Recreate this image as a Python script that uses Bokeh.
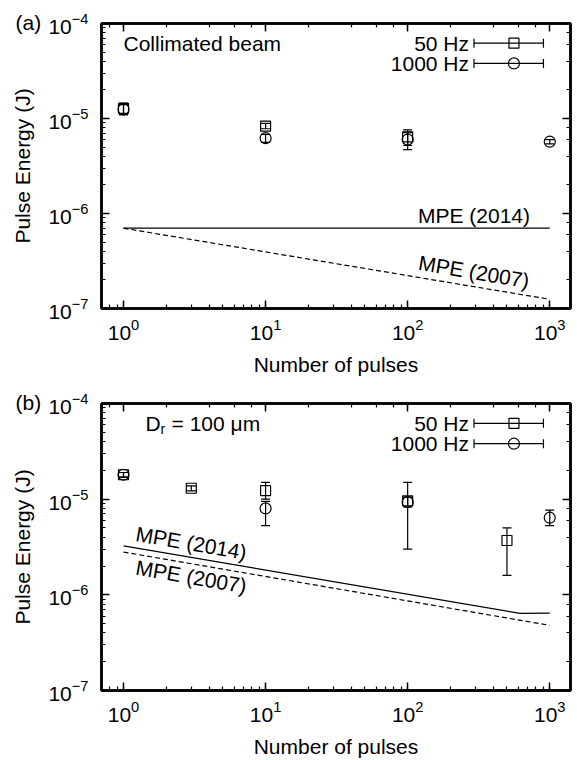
from bokeh.plotting import figure
from bokeh.models import (LogAxis, CustomJSTickFormatter, Whisker, TeeHead,
                          ColumnDataSource, Range1d)
from bokeh.layouts import column
from bokeh.embed import file_html
from bokeh.resources import INLINE
from bokeh.core.properties import value

FONT = "Liberation Sans"
FS = "21px"

# ---------------- data: panel (a) collimated beam ----------------
a_x_50 = [1, 10, 100]
a_y_50 = [1.28e-5, 8.3e-6, 6.4e-6]
a_lo_50 = [1.1e-5, 7.8e-6, 4.7e-6]
a_hi_50 = [1.45e-5, 8.9e-6, 7.6e-6]
a_x_1000 = [1, 10, 100, 1000]
a_y_1000 = [1.25e-5, 6.2e-6, 6.0e-6, 5.7e-6]
a_lo_1000 = [1.1e-5, 5.6e-6, 5.2e-6, 5.4e-6]
a_hi_1000 = [1.4e-5, 6.8e-6, 7.1e-6, 6.0e-6]
a_mpe2014_x = [1, 1000]
a_mpe2014_y = [7.0e-7, 7.0e-7]
a_mpe2007_x = [1, 1000]
a_mpe2007_y = [7.0e-7, 1.25e-7]

# ---------------- data: panel (b) Dr = 100 um ----------------
b_x_50 = [1, 3, 10, 100, 500]
b_y_50 = [1.8e-5, 1.3e-5, 1.23e-5, 9.6e-6, 3.7e-6]
b_lo_50 = [1.7e-5, 1.22e-5, 1.0e-5, 3.0e-6, 1.6e-6]
b_hi_50 = [1.9e-5, 1.38e-5, 1.5e-5, 1.5e-5, 5.0e-6]
b_x_1000 = [1, 10, 100, 1000]
b_y_1000 = [1.8e-5, 8.0e-6, 9.3e-6, 6.4e-6]
b_lo_1000 = [1.7e-5, 5.3e-6, 8.3e-6, 5.3e-6]
b_hi_1000 = [1.9e-5, 9.5e-6, 1.05e-5, 7.7e-6]
b_mpe2014_x = [1, 620, 1000]
b_mpe2014_y = [3.25e-6, 6.4e-7, 6.45e-7]
b_mpe2007_x = [1, 1000]
b_mpe2007_y = [2.8e-6, 4.8e-7]

legend_labels = ["50 Hz", "1000 Hz"]
x_label = "Number of pulses"
y_label = "Pulse Energy (J)"

# ---------------- layout / style constants ----------------
X_RANGE = (0.7, 1400)
Y_RANGE = (1e-7, 1e-4)
W = 577
LEFT = 101
RIGHT = 7
LEG_X = [293, 560, 903]   # left cap, marker, right cap of legend samples


def style_axis(ax, show_labels=True):
    ax.major_tick_in = 8
    ax.major_tick_out = 0
    ax.minor_tick_in = 4
    ax.minor_tick_out = 0
    ax.axis_line_width = 2.5
    ax.axis_line_color = "black"
    ax.major_tick_line_width = 1.5
    ax.minor_tick_line_width = 1.2
    ax.major_tick_line_color = "black"
    ax.minor_tick_line_color = "black"
    ax.major_label_text_font = FONT
    ax.major_label_text_font_size = FS
    ax.major_label_text_color = "black"
    ax.axis_label_text_font = FONT
    ax.axis_label_text_font_size = FS
    ax.axis_label_text_font_style = "normal"
    ax.axis_label_text_color = "black"
    if not show_labels:
        ax.formatter = CustomJSTickFormatter(code="return ''")
        ax.major_label_standoff = 0
        ax.major_label_text_font_size = "0px"


def err(p, xs, lo, hi):
    src = ColumnDataSource(dict(x=xs, lo=lo, hi=hi))
    w = Whisker(source=src, base="x", lower="lo", upper="hi", dimension="height",
                line_color="black", line_width=1.2,
                upper_head=TeeHead(size=9, line_color="black", line_width=1.2),
                lower_head=TeeHead(size=9, line_color="black", line_width=1.2))
    p.add_layout(w)


def txt(p, x, y, s, **kw):
    opts = dict(text_align="left", text_baseline="middle", text_font=value(FONT),
                text_font_size=FS, text_color="black")
    opts.update(kw)
    p.text(x=[x], y=[y], text=[s], **opts)


def legend_entry(p, y, label, marker, size):
    txt(p, LEG_X[0], y, label, x_offset=-5, text_align="right")
    src = ColumnDataSource(dict(y=[y], lo=[LEG_X[0]], hi=[LEG_X[2]]))
    p.add_layout(Whisker(source=src, base="y", lower="lo", upper="hi", dimension="width",
                         line_color="black", line_width=1.2,
                         upper_head=TeeHead(size=9, line_color="black", line_width=1.2),
                         lower_head=TeeHead(size=9, line_color="black", line_width=1.2)))
    p.scatter(x=[LEG_X[1]], y=[y], marker=marker, size=size,
              fill_alpha=0, line_color="black", line_width=1.2)


def make_panel(height, top, bottom, tag):
    p = figure(width=W, height=height, x_axis_type="log", y_axis_type="log",
               x_range=Range1d(*X_RANGE), y_range=Range1d(*Y_RANGE),
               output_backend="svg", toolbar_location=None,
               min_border_left=LEFT, min_border_right=RIGHT,
               min_border_top=top, min_border_bottom=bottom)
    p.grid.visible = False
    p.outline_line_color = "black"
    p.outline_line_width = 2.5
    p.background_fill_color = "white"
    p.border_fill_color = "white"
    p.xaxis.axis_label = x_label
    p.yaxis.axis_label = y_label
    for ax in p.xaxis + p.yaxis:
        style_axis(ax)
    p.xaxis.major_label_standoff = 10
    p.xaxis.axis_label_standoff = 10
    p.yaxis.major_label_standoff = 13
    p.yaxis.axis_label_standoff = 11
    ra = LogAxis()
    style_axis(ra, False)
    p.add_layout(ra, "right")
    ta = LogAxis()
    style_axis(ta, False)
    p.add_layout(ta, "above")
    # panel tag "(a)"/"(b)" placed left of the frame via the title
    p.title.text = tag
    p.title.align = "left"
    p.title.offset = -86
    p.title.standoff = -20
    p.title.vertical_align = "bottom"
    p.title.text_font = FONT
    p.title.text_font_size = FS
    p.title.text_font_style = "normal"
    p.title.text_color = "black"
    return p


def draw_data(p, x50, y50, lo50, hi50, x1k, y1k, lo1k, hi1k):
    err(p, x50, lo50, hi50)
    err(p, x1k, lo1k, hi1k)
    p.scatter(x=x50, y=y50, marker="square", size=10, fill_alpha=0,
              line_color="black", line_width=1.2)
    p.scatter(x=x1k, y=y1k, marker="circle", size=11, fill_alpha=0,
              line_color="black", line_width=1.2)


# ---------------- panel (a) ----------------
pa = make_panel(378, 23, 68, "(a)")
pa.line(a_mpe2014_x, a_mpe2014_y, line_color="black", line_width=1.2)
pa.line(a_mpe2007_x, a_mpe2007_y, line_color="black", line_width=1.2, line_dash="5 3")
draw_data(pa, a_x_50, a_y_50, a_lo_50, a_hi_50, a_x_1000, a_y_1000, a_lo_1000, a_hi_1000)
txt(pa, 1, 6.2e-5, "Collimated beam")
txt(pa, 293, 9.6e-7, "MPE (2014)", text_align="center")
txt(pa, 293, 2.44e-7, "MPE (2007)", text_align="center", angle=-0.167)
legend_entry(pa, 6.2e-5, legend_labels[0], "square", 10)
legend_entry(pa, 3.8e-5, legend_labels[1], "circle", 11)

# ---------------- panel (b) ----------------
pb = make_panel(382, 25, 66, "(b)")
pb.line(b_mpe2014_x, b_mpe2014_y, line_color="black", line_width=1.2)
pb.line(b_mpe2007_x, b_mpe2007_y, line_color="black", line_width=1.2, line_dash="5 3")
draw_data(pb, b_x_50, b_y_50, b_lo_50, b_hi_50, b_x_1000, b_y_1000, b_lo_1000, b_hi_1000)
txt(pb, 1.43, 6.2e-5, "D")
txt(pb, 1.43, 6.2e-5, "r", x_offset=15, y_offset=6, text_font_size="14px")
txt(pb, 1.43, 6.2e-5, "= 100 μm", x_offset=26)
txt(pb, 3.0, 3.48e-6, "MPE (2014)", text_align="center", angle=-0.171)
txt(pb, 3.0, 1.55e-6, "MPE (2007)", text_align="center", angle=-0.171)
legend_entry(pb, 6.2e-5, legend_labels[0], "square", 10)
legend_entry(pb, 3.8e-5, legend_labels[1], "circle", 11)

layout = column(pa, pb)
open("out.html", "w").write(file_html(layout, INLINE))
